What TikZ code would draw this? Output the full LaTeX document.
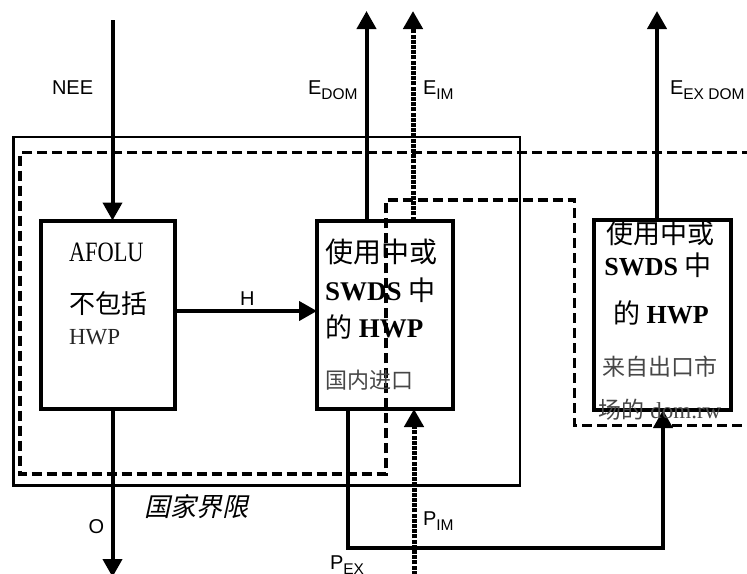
\documentclass[tikz,border=0pt]{standalone}
\usepackage{fontspec}
\setmainfont{Liberation Serif}
\setsansfont{Liberation Sans}
\newfontfamily\cjk{Noto Sans CJK SC}
\newfontfamily\cjkit{Noto Sans CJK SC}[FakeSlant=0.22]
\newfontfamily\arl{Liberation Sans}
\newfontfamily\stretchserif{Liberation Serif}[FakeStretch=0.8]
\usetikzlibrary{arrows.meta}
\newcommand{\fs}[1]{\fontsize{#1}{#1}\selectfont}
\newcommand{\flowlbl}[2]{{\arl\fs{20}#1\raisebox{-5pt}{\fs{15.5}#2}}}
\tikzset{
  box/.style={draw, line width=4pt, inner sep=0pt, outer sep=0pt},
  arr/.style={line width=4pt, -{Triangle[width=19pt,length=18pt]}},
  dotline/.style={line width=5pt, dash pattern=on 4pt off 1.2pt},
  dashline/.style={line width=3.5pt, dash pattern=on 10pt off 5pt},
  boundary/.style={line width=2.5pt},
  txt/.style={inner sep=0pt, outer sep=0pt},
  lbl/.style={inner sep=0pt, outer sep=0pt, anchor=base west},
  greytxt/.style={text=black!72}
}
\begin{document}
\begin{tikzpicture}[x=1pt,y=-1pt]
\useasboundingbox (0,0) rectangle (747,573);
% national boundary (solid) and domestic boundary (dashed)
\draw[boundary] (13.5,137) rectangle (520,485.5);
\draw[dashline] (752,152.7) -- (20,152.7) -- (20,474) -- (386,474) -- (386,200) -- (574.7,200) -- (574.7,425.5) -- (752,425.5);
% boxes
\node[box, minimum width=134pt, minimum height=188.5pt] (afolu) at (108,314.75) {};
\node[box, minimum width=136pt, minimum height=188.5pt] (mid) at (385,314.75) {};
\node[box, minimum width=136.5pt, minimum height=190pt] (ext) at (662.25,315) {};
% coordinates
\coordinate (neeTop) at (112.5,20);
\coordinate (oEnd) at (112.5,577);
\coordinate (eDomTop) at (366.5,11);
\coordinate (eImTop) at (413,11);
\coordinate (eExTop) at (657,11);
\coordinate (hy) at (0,311);
\coordinate (pexA) at (348,548);
\coordinate (pexB) at (663,548);
\coordinate (pimBot) at (414,580);
% connectors
\draw[arr] (neeTop) -- (neeTop |- afolu.north);
\draw[arr] (oEnd |- afolu.south) -- (oEnd);
\draw[arr] (eDomTop |- mid.north) -- (eDomTop);
\draw[arr, dotline] (eImTop |- mid.north) -- (eImTop);
\draw[arr] (eExTop |- ext.north) -- (eExTop);
\draw[arr] (afolu.east |- hy) -- (mid.west |- hy);
\draw[arr] (pexA |- mid.south) -- (pexA) -- (pexB) -- (pexB |- ext.south);
\draw[arr, dotline] (pimBot) -- (pimBot |- mid.south);
% flow labels
\node[lbl] (neeL) at (52,94) {\arl\fs{20}NEE};
\node[lbl] (edomL) at (308,94) {\flowlbl{E}{DOM}};
\node[lbl] (eimL) at (423,94) {\flowlbl{E}{IM}};
\node[lbl] (eexL) at (670,94) {\flowlbl{E}{EX DOM}};
\node[lbl] (hL) at (240,305) {\arl\fs{20}H};
\node[lbl] (oL) at (88.5,533) {\arl\fs{20}O};
\node[lbl] (pimL) at (423,525) {\flowlbl{P}{IM}};
\node[lbl] (pexL) at (330,569) {\flowlbl{P}{EX}};
\node[txt] (borderL) at (196,506.5) {\cjkit\fs{26}国家界限};
% AFOLU box text
\node[txt, anchor=west] (a1) at (69,252) {\stretchserif\fs{28}AFOLU};
\node[txt, anchor=west] (a2) at (69,304) {\cjk\fs{26}不包括};
\node[txt, anchor=west, text=black!85] (a3) at (69,336.7) {\fs{23}HWP};
% middle box text
\node[txt, anchor=west] (m1) at (325,252) {\cjk\fs{28}使用中或};
\node[txt, anchor=west] (m2) at (325,290) {\fs{27}\bfseries SWDS {\cjk\mdseries 中}};
\node[txt, anchor=west] (m3) at (325,327) {\fs{27}{\cjk 的} \bfseries HWP};
\node[txt, anchor=west, greytxt] (m4) at (325,380) {\cjk\fs{22}国内进口};
% export box text
\node[txt] (x1) at (660,233) {\cjk\fs{27}使用中或};
\node[txt] (x2) at (658,265) {\fs{26}\bfseries SWDS {\cjk\mdseries\fs{27}中}};
\node[txt] (x3) at (661,313) {\fs{26}{\cjk\fs{27}的} \bfseries HWP};
\node[txt, greytxt] (x4) at (660,367) {\cjk\fs{23}来自出口市};
\node[txt, greytxt] (x5) at (660,410) {\fs{23}{\cjk 场的} dom.rw};
\end{tikzpicture}
\end{document}
